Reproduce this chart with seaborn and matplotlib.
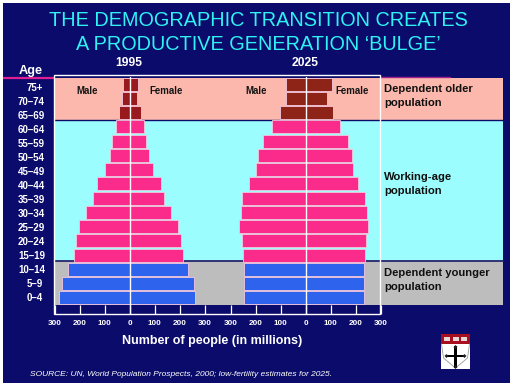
import matplotlib
matplotlib.use("Agg")
import matplotlib.pyplot as plt
from matplotlib.patches import Rectangle, Polygon
import pandas as pd
import seaborn as sns

ages = ["75+", "70–74", "65–69", "60–64", "55–59", "50–54", "45–49", "40–44",
        "35–39", "30–34", "25–29", "20–24", "15–19", "10–14", "5–9", "0–4"]
groups = ["old"] * 3 + ["work"] * 10 + ["young"] * 3
male_1995 = [28, 31, 43, 55, 70, 79, 100, 132, 148, 176, 202, 216, 224, 246, 271, 282]
female_1995 = [33, 31, 44, 58, 67, 77, 95, 124, 138, 167, 193, 207, 212, 233, 257, 263]
male_2025 = [77, 77, 104, 136, 171, 190, 198, 225, 253, 258, 266, 253, 250, 246, 246, 245]
female_2025 = [106, 87, 110, 138, 168, 184, 191, 211, 237, 245, 250, 241, 237, 233, 233, 233]
ticks = [-300, -200, -100, 0, 100, 200, 300]
title_lines = ["THE DEMOGRAPHIC TRANSITION CREATES", "A PRODUCTIVE GENERATION ‘BULGE’"]

NAVY = "#0b0b6b"
W, H = 512, 384
sns.set_theme(style="white")
plt.rcParams["font.family"] = ["Liberation Sans", "DejaVu Sans"]

fig = plt.figure(figsize=(W / 100, H / 100), dpi=100, facecolor=NAVY)
bg = fig.add_axes([0, 0, 1, 1])
bg.set_xlim(0, W)
bg.set_ylim(H, 0)
bg.axis("off")

def band(y0, y1, color):
    bg.add_patch(Rectangle((54, y0), 449, y1 - y0, fc=color, ec="none", zorder=1))

band(78, 119.5, "#fcb8ac")
band(119.5, 261, "#9bfdfd")
band(261, 305, "#bdbdbd")
bg.plot([54, 503], [119.5, 119.5], color=NAVY, lw=1, zorder=2)
bg.plot([54, 503], [261, 261], color="#25256e", lw=1.3, zorder=2)
bg.plot([3, 54], [78, 78], color="#e01e96", lw=1.6, zorder=2)
bg.plot([380, 450], [77.2, 77.2], color="#a0208c", lw=1, zorder=2)
# white picture margin
for rect in ((0, 0, 3, H), (0, 0, W, 3), (510, 0, 2, H), (0, 383, W, 1)):
    bg.add_patch(Rectangle(rect[:2], rect[2], rect[3], fc="white", ec="none", zorder=2))

palette = {"old": "#981a1e", "work": "#fb2b8b", "young": "#2e63ee"}

def panel(left, male, female, year_palette):
    ax = fig.add_axes([left / W, 1 - 314 / H, 150 / W, (314 - 77) / H])
    ax.patch.set_alpha(0)
    for vals, sign in ((male, -1), (female, 1)):
        df = pd.DataFrame({"age": ages, "group": groups, "v": [sign * v for v in vals]})
        sns.barplot(data=df, x="v", y="age", hue="group", palette=year_palette, order=ages,
                    dodge=False, legend=False, width=0.9, ax=ax, orient="h",
                    linewidth=0.6, edgecolor="#f3c8de", saturation=1)
    ax.set_xlim(-300, 300)
    ax.set_ylim(16.13, -0.5)
    ax.set_xticks(ticks)
    ax.set_xticklabels([str(abs(t)) for t in ticks], fontsize=5.9, fontweight="bold", color="white")
    ax.tick_params(axis="x", direction="in", length=6.5, width=0.9, color="white", pad=4, bottom=True)
    ax.set_yticks([])
    ax.set_xlabel("")
    ax.set_ylabel("")
    for s in ax.spines.values():
        s.set_visible(False)
    ax.axvline(0, color="white", lw=1)
    return ax

panel(54.5, male_1995, female_1995, palette)
panel(230.5, male_2025, female_2025, dict(palette, old="#8e2318"))

bg.add_patch(Rectangle((54, 75), 326, 239, fc="none", ec="white", lw=1, zorder=6))

# titles
bg.text(258, 20, title_lines[0], color="#2ff2f2", fontsize=14.35, ha="center", va="center")
bg.text(258, 44, title_lines[1], color="#2ff2f2", fontsize=14.35, ha="center", va="center")
bg.text(129, 63, "1995", color="white", fontsize=8.7, fontweight="bold", ha="center", va="center")
bg.text(305, 63, "2025", color="white", fontsize=8.7, fontweight="bold", ha="center", va="center")
bg.text(31, 71, "Age", color="white", fontsize=9.2, fontweight="bold", ha="center", va="center")

for i, a in enumerate(ages):
    x = 35 if len(a) < 4 else 31.5
    bg.text(x, 88 + i * 14.0, a, color="white", fontsize=7, fontweight="bold", ha="center", va="center")

for x, s in ((87.5, "Male"), (166.5, "Female"), (256, "Male"), (352, "Female")):
    bg.text(x, 90.7, s, color="#141414", fontsize=6.9, fontweight="bold", ha="center", va="center", zorder=7)

side = dict(color="#101010", fontsize=8.1, fontweight="bold", ha="left", va="center", zorder=7)
bg.text(384, 89.3, "Dependent older", **side)
bg.text(384, 103.3, "population", **side)
bg.text(384, 176.7, "Working-age", **side)
bg.text(384, 191, "population", **side)
bg.text(384, 272.7, "Dependent younger", **side)
bg.text(384, 286.7, "population", **side)

bg.text(212, 341, "Number of people (in millions)", color="white", fontsize=9, fontweight="bold",
        ha="center", va="center")
bg.text(30, 374, "SOURCE: UN, World Population Prospects, 2000; low-fertility estimates for 2025.",
        color="white", fontsize=6, style="italic", ha="left", va="center")

# shield logo
bg.add_patch(Rectangle((441, 334), 29, 35, fc="white", ec="none", zorder=3))
bg.add_patch(Rectangle((441, 334), 29, 9.5, fc="#a81020", ec="none", zorder=4))
for x0, w in ((444, 6), (452.5, 6), (461, 6)):
    bg.add_patch(Rectangle((x0, 337), w, 4, fc="#e8d8d8", ec="none", zorder=5))
bg.plot([441.5, 443.5, 455.5, 467.5, 469.5], [344, 358, 368, 358, 344], color="#9a9a9a", lw=0.6, zorder=5)
bg.add_patch(Rectangle((454.2, 346), 2.6, 22, fc="black", ec="none", zorder=6))
bg.add_patch(Rectangle((446, 354.5), 19, 2.6, fc="black", ec="none", zorder=6))
for cx, cy in ((455.5, 347), (446.5, 356), (464.5, 356), (455.5, 367)):
    bg.add_patch(Polygon([(cx - 2, cy), (cx, cy - 2), (cx + 2, cy), (cx, cy + 2)], fc="#202020", ec="none", zorder=6))

fig.savefig("out.png", dpi=100, facecolor=NAVY)
